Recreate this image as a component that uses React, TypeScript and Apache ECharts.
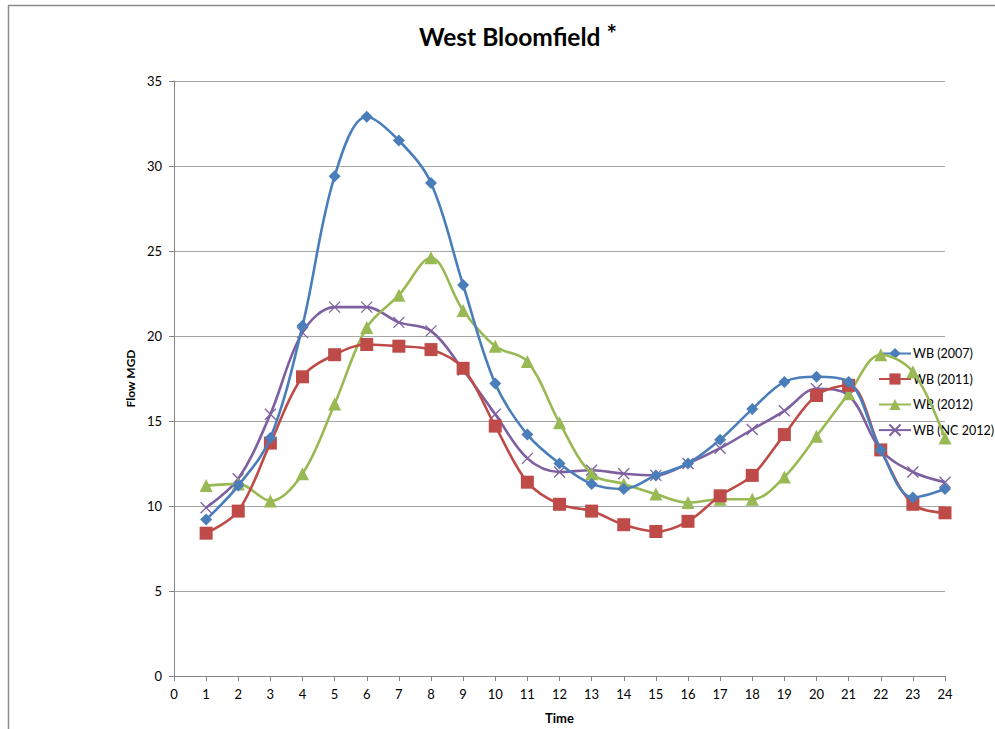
import React, { useEffect, useRef } from "react";
import * as echarts from "echarts";

const hours = [1, 2, 3, 4, 5, 6, 7, 8, 9, 10, 11, 12, 13, 14, 15, 16, 17, 18, 19, 20, 21, 22, 23, 24];
const wb2007 = [9.2, 11.2, 14.0, 20.6, 29.4, 32.9, 31.5, 29.0, 23.0, 17.2, 14.2, 12.5, 11.3, 11.0, 11.8, 12.5, 13.9, 15.7, 17.3, 17.6, 17.3, 13.3, 10.5, 11.0];
const wb2011 = [8.4, 9.7, 13.7, 17.6, 18.9, 19.5, 19.4, 19.2, 18.1, 14.7, 11.4, 10.1, 9.7, 8.9, 8.5, 9.1, 10.6, 11.8, 14.2, 16.5, 17.1, 13.3, 10.1, 9.6];
const wb2012 = [11.2, 11.3, 10.3, 11.9, 16.0, 20.5, 22.4, 24.6, 21.5, 19.4, 18.5, 14.9, 11.9, 11.3, 10.7, 10.2, 10.4, 10.4, 11.7, 14.1, 16.6, 18.9, 17.9, 14.0];
const wbNc2012 = [9.9, 11.6, 15.4, 20.2, 21.7, 21.7, 20.8, 20.3, 18.0, 15.4, 12.8, 12.0, 12.1, 11.9, 11.8, 12.5, 13.4, 14.5, 15.6, 16.9, 16.5, 13.3, 12.0, 11.4];

const seriesNames = ["WB (2007)", "WB (2011)", "WB (2012)", "WB (NC 2012)"];
const seriesColors = ["#4a7ebb", "#be4b48", "#98b954", "#7d60a0"];

const FONT = "Lato, 'Noto Sans', sans-serif";

function pairs(vals: number[]) {
  return vals.map((v, i) => [hours[i], v]);
}

export default function App() {
  const ref = useRef<HTMLDivElement>(null);

  useEffect(() => {
    if (!ref.current) return;
    const chart = echarts.init(ref.current, undefined, { renderer: "svg" });

    const symbols = ["diamond", "rect", "triangle", "path://M0,0L10,10M10,0L0,10"];
    const sizes = [12, 13, 13, 11];
    const data = [wb2007, wb2011, wb2012, wbNc2012];

    chart.setOption({
      animation: false,
      backgroundColor: "#ffffff",
      textStyle: { fontFamily: FONT },
      title: {
        text: "West Bloomfield {sup|*}",
        left: 414,
        top: 16,
        textStyle: {
          fontFamily: FONT,
          fontSize: 24.5,
          fontWeight: "bold",
          color: "#000",
          rich: {
            sup: { fontFamily: FONT, fontSize: 24.5, fontWeight: "bold", color: "#000", verticalAlign: "top", padding: [0, 0, 6, 0] },
          },
        },
      },
      graphic: [
        {
          type: "rect",
          shape: { x: 8.5, y: 5.5, width: 1000, height: 800 },
          style: { fill: "none", stroke: "#8c8c8c", lineWidth: 1.5 },
          silent: true,
        },
      ],
      legend: {
        orient: "vertical",
        left: 873,
        top: 342,
        padding: 5,
        itemWidth: 32,
        itemHeight: 14,
        itemGap: 12.5,
        textStyle: { fontFamily: FONT, fontSize: 12.5, color: "#000", padding: [0, 0, 0, -3] },
        data: seriesNames,
      },
      grid: { left: 174, right: 50, top: 81, bottom: 53, containLabel: false, outerBoundsMode: "none" },
      xAxis: {
        type: "value",
        min: 0,
        max: 24,
        interval: 1,
        name: "Time",
        nameLocation: "middle",
        nameGap: 35,
        nameTextStyle: { fontFamily: FONT, fontSize: 13, fontWeight: "bold", color: "#000" },
        axisLine: { show: true, lineStyle: { color: "#868686", width: 1 } },
        axisTick: { show: true, length: 5, lineStyle: { color: "#868686" } },
        axisLabel: { fontFamily: FONT, fontSize: 13, color: "#000", margin: 11 },
        splitLine: { show: false },
      },
      yAxis: {
        type: "value",
        min: 0,
        max: 35,
        interval: 5,
        name: "Flow MGD",
        nameLocation: "middle",
        nameGap: 35,
        nameRotate: 90,
        nameTextStyle: { fontFamily: FONT, fontSize: 12, fontWeight: "bold", color: "#000" },
        axisLine: { show: true, lineStyle: { color: "#868686", width: 1 } },
        axisTick: { show: true, length: 5, lineStyle: { color: "#868686" } },
        axisLabel: { fontFamily: FONT, fontSize: 13, color: "#000", margin: 12 },
        splitLine: { show: true, lineStyle: { color: "#a6a6a6", width: 1 } },
      },
      series: data.map((vals, i) => ({
        name: seriesNames[i],
        type: "line",
        data: pairs(vals),
        smooth: 0.35,
        symbol: symbols[i],
        symbolSize: sizes[i],
        showAllSymbol: true,
        color: seriesColors[i],
        lineStyle: { color: seriesColors[i], width: 2.6 },
        itemStyle:
          i === 3
            ? { color: seriesColors[i], borderColor: seriesColors[i], borderWidth: 1.3 }
            : { color: seriesColors[i] },
        emphasis: { disabled: true },
        z: 10 - i,
      })),
    });

    return () => chart.dispose();
  }, []);

  return (
    <div
      ref={ref}
      style={{ position: "absolute", left: 0, top: 0, width: 995, height: 729 }}
    />
  );
}
